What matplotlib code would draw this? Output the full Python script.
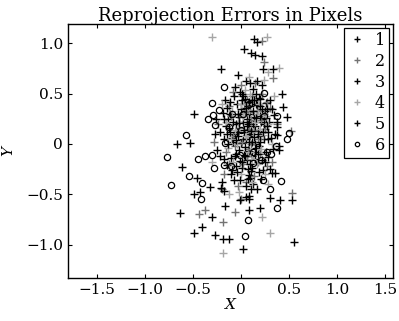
import numpy as np
import matplotlib
matplotlib.use("Agg")
import matplotlib.pyplot as plt

# reprojection errors (x, y) per image
img1 = [(-0.21, 0.74), (0.03, 0.94), (0.15, 0.88), (0.14, 1.04), (-0.66, 0.00), (-0.61, -0.23),
        (-0.49, -0.50), (-0.63, -0.69), (-0.40, -0.82), (0.55, -0.97), (0.30, -0.54), (0.08, -0.66),
        (-0.32, -0.43), (0.13, -0.40), (0.43, 0.50), (0.40, -0.06),
        (0.02, 0.48), (0.10, 0.38), (0.21, 0.22), (0.03, 0.12), (-0.09, 0.06), (0.16, -0.04),
        (0.06, -0.16), (-0.14, -0.21), (0.26, 0.41), (0.31, 0.06), (-0.02, 0.27), (0.13, 0.55),
        (-0.19, 0.31), (0.08, -0.31), (0.23, -0.26), (-0.07, -0.36), (0.00, 0.01), (0.18, 0.13),
        (-0.12, 0.16), (0.35, 0.29), (0.05, 0.62), (-0.25, -0.06), (0.28, -0.13), (0.11, -0.45),
        (-0.04, 0.40), (0.14, 0.27), (0.07, 0.20), (-0.16, 0.44), (0.24, 0.05), (-0.05, -0.10),
        (0.19, 0.46), (0.01, -0.24), (-0.22, 0.12), (0.12, -0.12), (0.33, -0.05), (0.09, 0.08),
        (0.04, 0.32), (0.13, 0.20), (-0.06, 0.10), (0.20, 0.08), (0.08, -0.07), (-0.10, -0.14),
        (0.25, 0.33), (0.02, 0.05), (0.16, 0.40), (-0.13, 0.25), (0.11, -0.27), (0.06, 0.25),
        (-0.01, -0.17), (0.22, -0.16), (0.29, 0.22), (0.15, 0.00)]
img2 = [(0.22, 1.02), (0.24, 0.81), (0.33, 0.65), (-0.44, -0.70), (-0.375, -0.66), (-0.19, -0.77),
        (0.52, 0.13), (0.53, -0.485), (-0.06, -0.68),
        (-0.08, 0.52), (0.04, 0.33), (0.17, 0.33), (-0.02, 0.16), (0.11, 0.00), (0.25, 0.15),
        (-0.15, -0.08), (0.02, -0.20), (0.20, -0.10), (-0.10, 0.28), (0.30, 0.36), (0.06, 0.44),
        (-0.24, 0.20), (0.14, -0.32), (-0.03, -0.42), (0.27, -0.22), (0.09, 0.15), (-0.06, -0.02),
        (0.15, 0.60), (-0.18, -0.30), (0.38, 0.20), (0.00, -0.55), (0.22, 0.50), (-0.12, 0.38),
        (0.07, -0.05), (0.18, 0.05), (-0.20, -0.45), (0.05, -0.38), (0.24, 0.30), (-0.28, 0.02),
        (0.11, 0.24), (0.32, -0.18), (0.00, 0.58),
        (0.03, 0.40), (0.14, 0.14), (-0.08, 0.08), (0.21, 0.24), (0.06, -0.12), (-0.12, -0.20),
        (0.27, 0.42), (0.10, 0.32), (-0.03, 0.30), (0.18, -0.18), (0.01, 0.02), (0.12, 0.48)]
img3 = [(0.17, 1.01), (0.11, 0.90), (0.22, 0.87), (0.23, 0.74), (0.34, 0.74), (-0.03, 0.68),
        (0.17, 0.62), (-0.49, 0.30), (-0.53, 0.01), (-0.46, -0.34), (-0.43, -0.48), (-0.30, -0.72),
        (-0.49, -0.88), (-0.27, -0.90), (-0.19, -0.94), (-0.125, -0.94), (0.02, -1.04), (0.20, -0.64),
        (-0.16, -0.62), (0.41, -0.555), (0.53, -0.56),
        (0.00, 0.35), (0.12, 0.44), (0.26, 0.26), (0.05, 0.05), (-0.11, 0.12), (0.19, -0.02),
        (0.03, -0.11), (-0.17, -0.15), (0.08, 0.30), (0.28, 0.12), (-0.05, 0.20), (0.17, 0.39),
        (-0.14, 0.36), (0.12, -0.24), (0.21, -0.35), (-0.10, -0.30), (0.04, -0.03), (0.15, 0.18),
        (-0.07, 0.48), (0.30, 0.44), (-0.01, 0.52), (-0.22, -0.12), (0.26, -0.08), (0.05, -0.42),
        (-0.03, 0.08), (0.10, 0.10), (0.20, 0.28), (-0.18, 0.05), (0.15, -0.15), (0.36, 0.10),
        (-0.05, -0.22), (0.22, 0.58), (0.08, -0.55), (-0.26, 0.25), (0.02, 0.22),
        (0.07, 0.38), (0.18, 0.10), (-0.04, 0.12), (0.12, 0.02), (0.01, -0.18), (-0.08, 0.02),
        (0.24, 0.20), (0.09, 0.22), (-0.11, 0.30), (0.15, -0.08), (0.27, 0.35), (0.04, 0.45),
        (-0.06, -0.12), (0.20, 0.45), (0.10, -0.34), (-0.15, 0.18)]
img4 = [(-0.30, 1.06), (0.27, 1.06), (0.40, 0.75), (0.28, 0.71), (0.24, 0.63), (-0.19, -1.08),
        (0.30, -0.88), (0.22, -0.72),
        (0.06, 0.40), (0.16, 0.30), (-0.06, 0.14), (0.23, 0.09), (-0.13, -0.04), (0.10, -0.08),
        (0.00, -0.30), (0.19, 0.40), (-0.09, 0.33), (0.28, 0.20), (0.04, 0.54), (-0.20, 0.40),
        (0.17, -0.20), (-0.02, -0.48), (0.32, 0.00), (0.13, 0.12), (-0.15, 0.22), (0.08, 0.66),
        (0.25, -0.30), (-0.08, -0.18), (0.35, 0.48), (0.02, 0.28), (-0.30, -0.18), (0.12, -0.38),
        (0.20, 0.15), (-0.04, 0.00), (0.10, 0.50), (0.28, -0.40), (-0.12, -0.50),
        (0.09, 0.34), (0.15, 0.22), (-0.03, 0.22), (0.21, -0.05), (0.05, 0.08), (-0.10, 0.05),
        (0.26, 0.28), (0.12, -0.15), (0.00, 0.40), (0.18, 0.34)]
img5 = [(-0.01, -0.56), (0.05, -0.53), (0.09, -0.52), (-0.21, -0.44), (-0.17, -0.47), (0.32, -0.29),
        (0.36, -0.29), (0.40, -0.02), (0.375, 0.17), (0.38, 0.09), (0.48, 0.27), (0.44, 0.37),
        (-0.03, 0.30), (0.09, 0.42), (0.22, 0.35), (0.06, 0.18), (-0.08, 0.22), (0.14, 0.07),
        (-0.02, -0.06), (0.10, -0.20), (-0.13, 0.00), (0.27, 0.18), (0.01, 0.44), (0.16, 0.50),
        (-0.17, 0.25), (0.07, -0.35), (0.19, -0.28), (-0.09, -0.26), (0.03, 0.14), (0.20, 0.02),
        (-0.11, 0.42), (0.32, 0.35), (0.10, 0.60), (-0.27, 0.10), (0.25, -0.18), (-0.01, -0.36),
        (0.13, 0.33), (0.04, -0.12), (-0.20, -0.38), (0.17, -0.45), (0.38, 0.22), (-0.06, 0.56),
        (0.08, 0.02), (0.30, -0.25),
        (0.05, 0.36), (0.16, 0.26), (-0.05, 0.04), (0.23, 0.12), (0.11, 0.13), (-0.02, 0.21),
        (0.18, -0.10), (0.07, -0.25), (-0.14, 0.10), (0.28, 0.05), (0.14, 0.44), (-0.04, -0.28),
        (0.01, 0.50), (0.20, 0.38)]
img6 = [(-0.77, -0.13), (-0.73, -0.41), (-0.57, 0.09), (-0.54, -0.32), (-0.45, -0.15), (-0.40, -0.39),
        (-0.41, -0.55), (-0.37, -0.12), (-0.34, 0.25), (-0.30, 0.41), (-0.29, 0.29), (-0.27, 0.19),
        (-0.28, -0.24), (-0.30, -0.11), (-0.17, 0.56), (-0.23, 0.34), (-0.17, -0.21), (-0.10, -0.22),
        (-0.125, 0.17), (-0.09, 0.30), (0.00, 0.14), (0.02, 0.30), (0.08, 0.40), (-0.01, -0.11),
        (0.13, -0.08), (0.24, 0.51), (0.24, 0.28), (0.375, 0.28), (0.48, 0.05), (0.50, 0.11),
        (0.37, -0.02), (0.31, -0.10), (0.27, -0.08), (0.21, -0.16), (0.23, -0.36), (0.30, -0.45),
        (0.42, -0.37), (0.375, -0.64), (0.07, -0.75), (0.04, -0.91), (-0.16, 0.01), (0.125, -0.19)]

labels = ["1", "2", "3", "4", "5", "6"]
series = [img1, img2, img3, img4, img5, img6]
colors = ["black", "0.45", "black", "0.65", "black", "black"]
markers = ["+", "+", "+", "+", "+", "o"]

xticks = [-1.5, -1.0, -0.5, 0, 0.5, 1.0, 1.5]
xticklabels = ["\u22121.5", "\u22121.0", "\u22120.5", "0", "0.5", "1.0", "1.5"]
yticks = [-1.0, -0.5, 0, 0.5, 1.0]
yticklabels = ["\u22121.0", "\u22120.5", "0", "0.5", "1.0"]

plt.rcParams['font.family'] = ['DejaVu Serif']

fig = plt.figure(figsize=(3.99, 3.21), dpi=100)
ax = fig.add_axes([68 / 399, 1 - 278 / 321, 325 / 399, 254 / 321])

for pts, lab, c, m in zip(series, labels, colors, markers):
    arr = np.array(pts)
    if m == "o":
        ax.plot(arr[:, 0], arr[:, 1], linestyle="none", marker="o", markersize=4.5,
                markerfacecolor="none", markeredgecolor=c, markeredgewidth=0.9, label=lab)
    else:
        ax.plot(arr[:, 0], arr[:, 1], linestyle="none", marker="+", markersize=6,
                color=c, markeredgewidth=1.0, label=lab)

ax.set_xlim(-1.80, 1.585)
ax.set_ylim(-1.33, 1.19)
ax.set_xticks(xticks)
ax.set_xticklabels(xticklabels)
ax.set_yticks(yticks)
ax.set_yticklabels(yticklabels)
ax.tick_params(direction="in", top=True, right=True, length=3, width=0.8, labelsize=11)
for sp in ax.spines.values():
    sp.set_linewidth(1.0)

ax.set_title("Reprojection Errors in Pixels", fontsize=13, pad=2)
ax.set_xlabel("X", fontstyle="italic", fontsize=11, labelpad=1)
ax.set_ylabel("Y", fontstyle="italic", fontsize=11, labelpad=8)

leg = ax.legend(loc="upper right", borderaxespad=0.25, fancybox=False, edgecolor="black",
                framealpha=1, fontsize=11.5, handlelength=1.2, handletextpad=0.5,
                labelspacing=0.25, borderpad=0.25, markerscale=0.7)
leg.get_frame().set_linewidth(0.9)

fig.savefig("out.png", dpi=100)
